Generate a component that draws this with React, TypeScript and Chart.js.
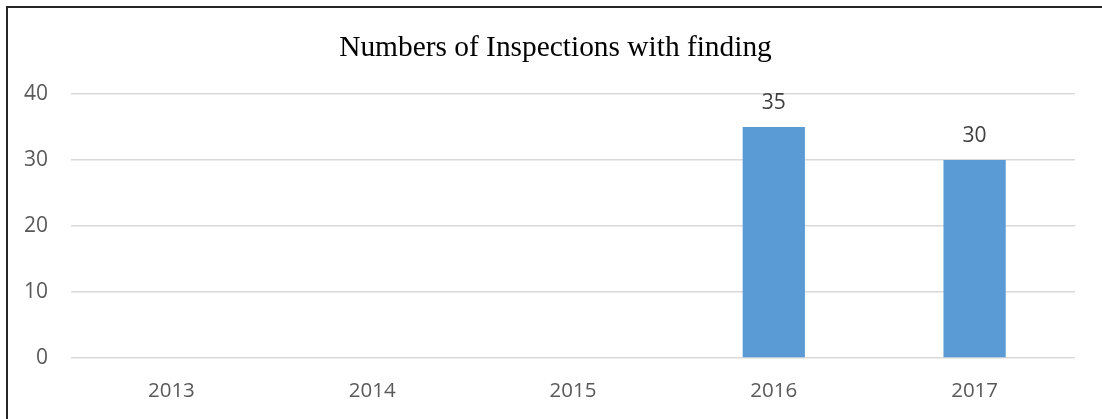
import React, { useEffect, useRef } from "react";
import { Chart, registerables } from "chart.js";

Chart.register(...registerables);

const categories: string[] = ["2013", "2014", "2015", "2016", "2017"];
const inspections: (number | null)[] = [null, null, null, 35, 30];
const yTicks: number[] = [0, 10, 20, 30, 40];
const chartTitle = "Numbers of Inspections with finding";

const barLabels = {
  id: "barLabels",
  afterDatasetsDraw(chart: any) {
    const ctx = chart.ctx;
    const meta = chart.getDatasetMeta(0);
    const data = chart.data.datasets[0].data;
    ctx.save();
    ctx.font = '21px "Open Sans"';
    ctx.fillStyle = "#404040";
    ctx.textAlign = "center";
    ctx.textBaseline = "alphabetic";
    meta.data.forEach((bar: any, i: number) => {
      const v = data[i];
      if (v === null || v === undefined) return;
      ctx.fillText(String(v), bar.x, bar.y - 18);
    });
    ctx.restore();
  },
};

// Excel centres the title over the chart frame rather than the plot, so widen its box leftwards offset.
const titleOffset = {
  id: "titleOffset",
  afterLayout(chart: any) {
    const t = chart.titleBlock;
    if (t) t.left = 36;
  },
};

export default function App() {
  const ref = useRef<HTMLCanvasElement | null>(null);
  useEffect(() => {
    if (!ref.current) return;
    const chart = new Chart(ref.current, {
      type: "bar",
      data: {
        labels: categories,
        datasets: [
          {
            data: inspections,
            backgroundColor: "#5B9BD5",
            borderWidth: 0,
            barPercentage: 0.31,
            categoryPercentage: 1,
          },
        ],
      },
      options: {
        animation: false,
        responsive: true,
        maintainAspectRatio: false,
        layout: { padding: { left: 0, right: 27, top: 31, bottom: 0 } },
        plugins: {
          legend: { display: false },
          tooltip: { enabled: false },
          title: {
            display: true,
            text: chartTitle,
            color: "#000000",
            font: { family: '"Liberation Serif", "Times New Roman", serif', size: 29.4, weight: "normal", lineHeight: 1.2 },
            padding: { top: 0, bottom: 27.7 },
          },
        },
        scales: {
          x: {
            grid: { display: false, drawTicks: false },
            border: { display: false },
            ticks: {
              color: "#595959",
              font: { family: '"Open Sans"', size: 20.5 },
              padding: 21,
            },
            afterFit(scale: any) {
              scale.height = 61;
            },
          },
          y: {
            min: 0,
            max: 40,
            afterBuildTicks(scale: any) {
              scale.ticks = yTicks.map((v) => ({ value: v }));
            },
            grid: { color: "#D9D9D9", lineWidth: 1.5, drawTicks: false },
            border: { display: false },
            ticks: {
              color: "#595959",
              font: { family: '"Open Sans"', size: 21 },
              padding: 23,
            },
            afterFit(scale: any) {
              scale.width = 71;
            },
          },
        },
      },
      plugins: [barLabels, titleOffset],
    });
    return () => chart.destroy();
  }, []);

  return (
    <div style={{ position: "absolute", left: 0, top: 0, width: 1102, height: 419, overflow: "hidden", background: "#fff" }}>
      <div style={{ position: "absolute", left: 6, top: 6, width: 1096, height: 413, borderLeft: "2px solid #262626", borderTop: "2px solid #262626", boxSizing: "border-box" }} />
      <div style={{ position: "absolute", left: 0, top: 0, width: 1102, height: 419 }}>
        <canvas ref={ref} />
      </div>
    </div>
  );
}
